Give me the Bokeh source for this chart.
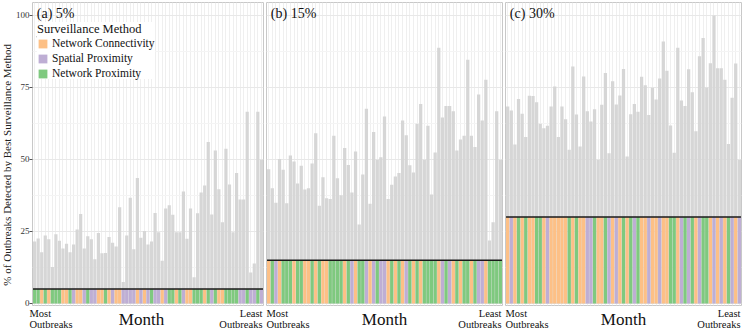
import math

from bokeh.plotting import figure
from bokeh.layouts import row, column
from bokeh.models import FixedTicker, Grid, Label, Legend, LegendItem
from bokeh.embed import file_html
from bokeh.resources import INLINE

# Months ranked from most to least outbreaks
months = list(range(1, 66))

# % of outbreaks detected by the best surveillance method, per detection budget
best_5 = [21.5, 22.6, 17.8, 23.6, 22.3, 12.7, 24.0, 21.8, 19.1, 20.7,
          17.8, 20.5, 25.7, 31.1, 19.1, 23.3, 22.3, 15.4, 24.5, 17.4,
          17.5, 23.1, 21.1, 19.8, 33.4, 7.5, 23.6, 36.7, 18.8, 43.6,
          22.8, 25.2, 20.5, 21.5, 31.4, 24.7, 14.8, 33.0, 34.1, 30.8,
          24.7, 24.7, 38.9, 22.5, 33.0, 9.1, 31.3, 38.5, 41.0, 56.1,
          30.9, 53.1, 39.7, 28.2, 53.7, 41.3, 24.7, 45.3, 36.1, 36.1,
          66.6, 10.8, 13.9, 66.6, 49.9]
best_15 = [46.6, 40.0, 35.0, 50.2, 46.4, 34.8, 51.4, 49.3, 41.7, 47.8,
           39.6, 40.0, 48.6, 59.1, 33.9, 43.8, 36.5, 36.3, 58.2, 43.5,
           37.6, 54.0, 48.1, 38.5, 52.8, 27.4, 44.8, 67.6, 34.6, 59.5,
           49.9, 50.8, 64.9, 36.3, 41.2, 44.1, 45.3, 63.5, 58.4, 48.0,
           45.5, 62.4, 69.3, 49.9, 61.7, 37.8, 52.4, 88.8, 64.6, 68.6,
           68.6, 66.7, 53.1, 56.9, 58.2, 84.6, 58.2, 54.3, 72.6, 63.5,
           77.7, 21.9, 28.2, 66.7, 49.9]
best_30 = [68.4, 67.0, 55.2, 71.0, 65.9, 57.8, 72.1, 72.0, 69.9, 62.4,
           60.8, 61.7, 68.4, 75.3, 57.8, 68.4, 64.0, 53.4, 82.3, 65.6,
           54.5, 78.8, 66.7, 63.2, 67.4, 49.9, 69.0, 80.0, 52.2, 77.2,
           69.1, 72.2, 81.4, 51.0, 65.7, 69.3, 66.6, 78.7, 75.8, 65.4,
           74.9, 70.8, 78.1, 91.0, 80.8, 61.8, 52.3, 88.8, 70.5, 68.6,
           81.3, 73.3, 59.8, 85.8, 92.2, 75.0, 83.4, 100.0, 81.7, 81.7,
           77.7, 55.4, 71.4, 83.3, 49.9]

# Best method per month: C = network connectivity, S = spatial proximity, P = network proximity
method_5 = ("PPCPC" "PPPCC" "PSCCS" "PSSCC" "PCSCC" "SSSSC" "SCSPS"
            "SCSPP" "CPSCC" "PPPCP" "SPCCP" "PPPSS" "PSSPS")
method_15 = ("CPSCP" "PPCPP" "CCPCP" "CCPPP" "PCPSC" "PPSCS" "PSSCP"
             "CPCSP" "CPCPP" "PPCSP" "SCPCP" "PCPSS" "CPPPP")
method_30 = ("CSCPC" "PCCPP" "CSCCC" "CCPCP" "CCSSP" "CCPSC" "SCPCP"
             "SPCCS" "CCSCC" "PPCSP" "SPCSP" "PCSCS" "CPSCS")

thresholds = [5, 15, 30]
panel_titles = ["(a) 5%", "(b) 15%", "(c) 30%"]
method_codes = ["C", "S", "P"]
method_names = ["Network Connectivity", "Spatial Proximity", "Network Proximity"]
method_colors = ["#fdc086", "#beaed4", "#7fc97f"]
y_ticks = [0, 25, 50, 75, 100]
y_minor = [12.5, 37.5, 62.5, 87.5]
y_title = "% of Outbreaks Detected by Best Surveillance Method"
x_title = "Month"

SERIF = "Liberation Serif"
X_RANGE = (0.4, 65.6)
Y_RANGE = (-0.7, 104.5)
PANEL_H = 308
CAPTION_H = 329 - PANEL_H


def bare(width, height, x_range, y_range):
    f = figure(width=width, height=height, x_range=x_range, y_range=y_range,
               output_backend="svg", toolbar_location=None,
               x_axis_location=None, y_axis_location=None,
               min_border=0, outline_line_color=None)
    f.grid.visible = False
    return f


def make_panel(best, methods, thr, title, width, left, right, first):
    p = figure(width=width, height=PANEL_H, x_range=X_RANGE, y_range=Y_RANGE,
               output_backend="svg", toolbar_location=None,
               x_axis_location=None, y_axis_location="left" if first else None,
               min_border_left=left, min_border_right=right,
               min_border_top=2, min_border_bottom=3)
    p.grid.visible = False
    p.outline_line_color = "#c8c8c8"
    p.outline_line_width = 1

    p.add_layout(Grid(dimension=0, ticker=FixedTicker(ticks=months),
                      grid_line_color="#efefef", grid_line_width=1))
    p.add_layout(Grid(dimension=1,
                      ticker=FixedTicker(ticks=y_ticks, minor_ticks=y_minor),
                      grid_line_color="#e8e8e8", grid_line_width=1,
                      minor_grid_line_color="#f4f4f4", minor_grid_line_width=1))

    if first:
        ax = p.yaxis[0]
        ax.ticker = FixedTicker(ticks=y_ticks)
        ax.axis_line_color = None
        ax.major_tick_out = 3
        ax.major_tick_in = 0
        ax.minor_tick_out = 0
        ax.minor_tick_in = 0
        ax.major_tick_line_color = "#555555"
        ax.major_label_text_font = SERIF
        ax.major_label_text_font_size = "9px"
        ax.major_label_text_color = "#333333"
        ax.major_label_standoff = 0

    # overall best detection rate
    p.vbar(x=months, top=best, width=0.9, bottom=0, fill_color="#d6d6d6",
           line_color=None)

    # method achieving the best detection within the budget
    renderers = []
    for code, color in zip(method_codes, method_colors):
        xs = [m for m, c in zip(months, methods) if c == code]
        r = p.vbar(x=xs, top=[thr] * len(xs), bottom=0, width=0.9,
                   fill_color=color, line_color=None)
        renderers.append(r)

    p.segment(x0=[months[0] - 0.45], x1=[months[-1] + 0.45], y0=[thr], y1=[thr],
              line_color="#1a1a1a", line_width=1.5)

    p.add_layout(Label(x=1.6, y=100.8, text=title, text_font=SERIF,
                       text_font_size="14px", text_color="#111111",
                       text_baseline="middle", text_align="left"))

    if first:
        items = [LegendItem(label=n, renderers=[r])
                 for n, r in zip(method_names, renderers)]
        leg = Legend(items=items, location=(5, 226), title="Surveillance Method",
                     title_text_font=SERIF, title_text_font_size="12.5px",
                     title_text_font_style="normal", title_text_color="#111111",
                     title_standoff=0,
                     label_text_font=SERIF, label_text_font_size="11.5px",
                     label_text_color="#111111", label_standoff=4,
                     glyph_width=11, glyph_height=11, label_height=11,
                     spacing=3, padding=0, margin=0,
                     background_fill_color="white", background_fill_alpha=1,
                     border_line_color=None)
        p.add_layout(leg)
        # underline for the legend title
        p.segment(x0=[1.6], x1=[30.6], y0=[92.6], y1=[92.6],
                  line_color="#111111", line_width=1)
    return p


# rotated y-axis title in its own narrow strip
ylab = bare(12, PANEL_H, (0, 12), (PANEL_H, 0))
ylab.add_layout(Label(x=6.2, y=165, text=y_title, angle=math.pi / 2,
                      text_font=SERIF, text_font_size="11px",
                      text_color="#222222", text_align="center",
                      text_baseline="middle"))

p1 = make_panel(best_5, method_5, thresholds[0], panel_titles[0], 252, 17, 1, True)
p2 = make_panel(best_15, method_15, thresholds[1], panel_titles[1], 239, 2, 1, False)
p3 = make_panel(best_30, method_30, thresholds[2], panel_titles[2], 239, 2, 1, False)

# month-axis captions under each panel (pixel coordinates of the strip)
bottom = bare(742, CAPTION_H, (0, 742), (CAPTION_H, 0))
panel_edges = [(29, 263), (266, 502), (505, 741)]
month_centres = [141, 384, 623]
cap = dict(text_font=SERIF, text_font_size="10.5px", text_color="#111111",
           text_baseline="middle")
for (lo, hi), mid in zip(panel_edges, month_centres):
    bottom.add_layout(Label(x=lo, y=5.4, text="Most", text_align="left", **cap))
    bottom.add_layout(Label(x=lo, y=15.6, text="Outbreaks", text_align="left", **cap))
    bottom.add_layout(Label(x=hi - 1, y=5.4, text="Least", text_align="right", **cap))
    bottom.add_layout(Label(x=hi - 1, y=15.6, text="Outbreaks", text_align="right", **cap))
    bottom.add_layout(Label(x=mid, y=10.5, text=x_title, text_align="center",
                            text_font=SERIF, text_font_size="17px",
                            text_color="#111111", text_baseline="middle"))

layout = column(row(ylab, p1, p2, p3), bottom)
open("out.html", "w").write(file_html(layout, INLINE))
